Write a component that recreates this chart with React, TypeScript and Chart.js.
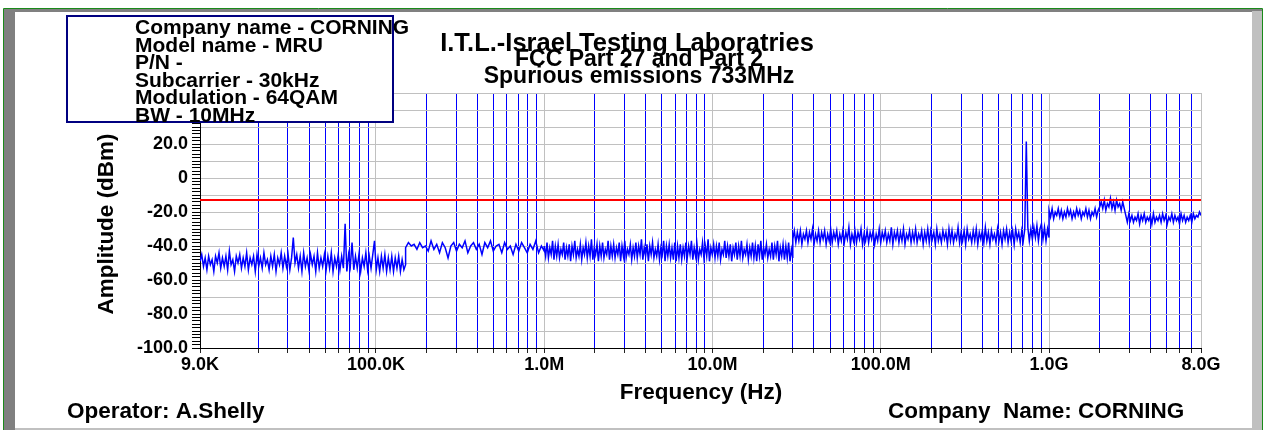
import React, { useEffect, useRef } from 'react';
import { Chart, registerables } from 'chart.js';

Chart.register(...registerables);

const FONT = '"Liberation Sans", Arial, Helvetica, sans-serif';

// ---- chart texts ----
const titleLine = 'I.T.L.-Israel Testing Laboratries';
const subtitleLines = ['FCC Part 27 and Part 2', 'Spurious emissions 733MHz'];
const infoLines = [
  'Company name - CORNING',
  'Model name - MRU',
  'P/N -',
  'Subcarrier - 30kHz',
  'Modulation - 64QAM',
  'BW - 10MHz',
];
const xTitle = 'Frequency (Hz)';
const yTitle = 'Amplitude (dBm)';
const operatorText = 'Operator: A.Shelly';
const companyText = 'Company  Name: CORNING';

// ---- axes ----
const xMin = 9e3;
const xMax = 8e9;
const yMin = -100;
const yMax = 50;
const xMajorTicks = [9e3, 1e5, 1e6, 1e7, 1e8, 1e9, 8e9];
const xMajorLabels = ['9.0K', '100.0K', '1.0M', '10.0M', '100.0M', '1.0G', '8.0G'];
const xMinorDecades = [1e4, 1e5, 1e6, 1e7, 1e8, 1e9];
const xMinorMultipliers = [2, 3, 4, 5, 6, 7, 8, 9];
const yLabelValues = [20, 0, -20, -40, -60, -80, -100];
const yLabelTexts = ['20.0', '0', '-20.0', '-40.0', '-60.0', '-80.0', '-100.0'];

// ---- limit line (dBm) ----
const limitFreq = [9e3, 8e9];
const limitLevel = [-13, -13];

// ---- measured trace, per sweep segment (Hz span, dBm readings) ----
const seg1Span = [9e3, 150e3];
const seg1Levels = [
  -49, -45, -52, -47, -54, -46, -51, -48, -55, -46,
  -50, -44, -53, -47, -52, -46, -54, -43, -51, -48,
  -55, -46, -50, -45, -53, -47, -52, -44, -54, -47,
  -51, -46, -55, -45, -52, -47, -53, -44, -51, -48,
  -54, -46, -52, -45, -55, -47, -51, -44, -53, -46,
  -52, -45, -54, -47, -35, -50, -45, -53, -46, -55,
  -44, -52, -47, -54, -45, -51, -46, -55, -44, -53,
  -47, -52, -45, -54, -46, -53, -44, -55, -47, -52,
  -45, -54, -46, -53, -27, -55, -45, -52, -38, -54,
  -46, -53, -45, -55, -47, -52, -44, -54, -46, -53,
  -45, -37, -54, -47, -55, -46, -53, -45, -55, -47,
  -54, -46, -55, -47, -53, -46, -55, -48, -54, -51,
];
const seg2aSpan = [150e3, 1e6];
const seg2aLevels = [
  -41, -38, -40, -39, -42, -38, -41, -40, -43, -37,
  -42, -39, -44, -38, -41, -47, -40, -38, -43, -39,
  -41, -37, -44, -40, -38, -42, -39, -45, -38, -41,
  -37, -43, -40, -39, -44, -38, -42, -40, -45, -39,
  -43, -38, -41, -44, -39, -42, -37, -44, -40, -43,
];
const seg2bSpan = [1e6, 30e6];
const seg2bLevels = [
  -40, -46, -38, -47, -41, -45, -37, -48, -40, -46,
  -39, -47, -42, -45, -38, -48, -41, -46, -39, -49,
  -40, -45, -37, -47, -42, -46, -39, -48, -41, -45,
  -38, -47, -40, -46, -36, -48, -41, -45, -39, -49,
  -40, -46, -38, -47, -42, -45, -37, -48, -40, -46,
  -39, -47, -41, -45, -38, -49, -40, -46, -37, -47,
  -42, -45, -39, -48, -41, -46, -38, -47, -40, -45,
  -36, -48, -41, -46, -39, -49, -40, -45, -38, -47,
  -42, -46, -39, -48, -41, -45, -37, -49, -40, -46,
  -39, -47, -41, -48, -38, -49, -40, -47, -39, -48,
  -41, -46, -38, -47, -40, -45, -37, -48, -41, -46,
  -39, -48, -42, -45, -38, -47, -40, -46, -36, -49,
  -41, -45, -39, -47, -40, -46, -38, -48, -42, -45,
  -37, -47, -40, -46, -39, -49, -41, -45, -38, -48,
  -40, -46, -37, -47, -42, -45, -39, -48, -41, -46,
  -38, -47, -40, -49, -39, -46, -37, -48, -41, -45,
  -39, -47, -42, -46, -38, -48, -40, -45, -37, -49,
  -41, -46, -39, -48, -40, -47, -38, -49, -42, -47,
];
const seg3Span = [30e6, 1e9];
const seg3Levels = [
  -36, -31, -38, -32, -37, -31, -39, -33, -36, -31,
  -38, -32, -36, -30, -39, -33, -37, -31, -38, -32,
  -36, -31, -39, -33, -37, -30, -38, -32, -36, -31,
  -39, -33, -37, -31, -38, -32, -36, -29, -39, -33,
  -37, -31, -38, -32, -36, -30, -39, -33, -37, -31,
  -38, -32, -36, -31, -39, -33, -37, -30, -38, -32,
  -36, -31, -38, -33, -37, -29, -39, -32, -36, -31,
  -38, -32, -37, -30, -39, -33, -36, -31, -38, -32,
  -37, -30, -38, -33, -36, -31, -39, -32, -37, -30,
  -38, -31, -36, -32, -39, -30, -37, -33, -38, -31,
  -36, -32, -39, -30, -37, -31, -38, -33, -36, -29,
  -38, -32, -37, -31, -39, -30, -36, -33, -38, -31,
  -37, -30, -39, -32, -36, -31, -38, -29, -37, -32,
  -39, -31, -36, -33, -38, -30, -37, -32, -39, -31,
  -36, -30, -38, -32, -37, -31, -39, -30, -36, -32,
  -38, -31, -37, -30, 21.5, -29, -37, -30, -36, -29,
  -35, -28, -37, -30, -27, -36, -29, -37, -30, -35,
];
const seg4Span = [1e9, 8e9];
const seg4Levels = [
  -19, -23, -18, -24, -20, -22, -18, -23, -19, -24,
  -20, -23, -18, -22, -19, -24, -20, -23, -18, -22,
  -19, -24, -20, -22, -18, -23, -19, -24, -20, -22,
  -18, -23, -19, -17, -14, -18, -13, -19, -15, -17,
  -12, -18, -14, -19, -13, -17, -15, -19, -14, -18,
  -22, -26, -21, -25, -22, -26, -23, -25, -21, -27,
  -22, -25, -21, -26, -23, -25, -22, -27, -21, -26,
  -23, -25, -22, -26, -21, -25, -22, -27, -23, -25,
  -21, -26, -22, -25, -23, -27, -21, -25, -22, -26,
  -23, -25, -22, -26, -21, -24, -22, -23, -20, -22,
];

function sweepPoints(span: number[], levels: number[]) {
  const n = levels.length;
  return levels.map((v, i) => ({
    x: span[0] * Math.pow(span[1] / span[0], i / (n - 1)),
    y: v,
  }));
}

function isDecade(v: number) {
  const l = Math.log10(v);
  return Math.abs(l - Math.round(l)) < 1e-6;
}

const framePlugin = {
  id: 'frame',
  beforeDraw(chart: any) {
    const ctx = chart.ctx as CanvasRenderingContext2D;
    const W = chart.width;
    const H = chart.height;
    ctx.save();
    ctx.fillStyle = '#ffffff';
    ctx.fillRect(0, 0, W, H);
    ctx.fillStyle = '#808080';
    ctx.fillRect(4, 9, 1258, 3);
    ctx.fillRect(4, 9, 11, H - 9);
    ctx.fillStyle = '#c0c0c0';
    ctx.fillRect(1252, 11, 10, H - 11);
    ctx.fillRect(15, 428, 1237, 2);
    ctx.strokeStyle = '#1a8a1a';
    ctx.lineWidth = 1;
    ctx.beginPath();
    ctx.moveTo(3.5, H);
    ctx.lineTo(3.5, 8.5);
    ctx.lineTo(1262.5, 8.5);
    ctx.lineTo(1262.5, H);
    ctx.stroke();
    ctx.restore();
  },
};

const textPlugin = {
  id: 'texts',
  afterDraw(chart: any) {
    const ctx = chart.ctx as CanvasRenderingContext2D;
    ctx.save();
    ctx.fillStyle = '#000';
    ctx.textBaseline = 'alphabetic';

    ctx.textAlign = 'center';
    ctx.font = `bold 25.5px ${FONT}`;
    ctx.fillText(titleLine, 627, 51);
    ctx.font = `bold 23px ${FONT}`;
    ctx.fillText(subtitleLines[0], 639, 66);
    ctx.fillText(subtitleLines[1], 639, 83);

    ctx.fillStyle = '#ffffff';
    ctx.fillRect(67, 16, 326, 106);
    ctx.strokeStyle = '#000080';
    ctx.lineWidth = 2;
    ctx.strokeRect(67, 16, 326, 106);
    ctx.fillStyle = '#000';
    ctx.textAlign = 'left';
    ctx.font = `bold 21px ${FONT}`;
    infoLines.forEach((t, i) => ctx.fillText(t, 135, 34.3 + i * 17.5));

    ctx.font = `bold 22.5px ${FONT}`;
    ctx.textAlign = 'center';
    ctx.textBaseline = 'middle';
    ctx.fillText(xTitle, 701, 393);
    ctx.save();
    ctx.translate(107, 224);
    ctx.rotate(-Math.PI / 2);
    ctx.fillText(yTitle, 0, 0);
    ctx.restore();

    ctx.textBaseline = 'alphabetic';
    ctx.textAlign = 'left';
    ctx.font = `bold 22.5px ${FONT}`;
    ctx.fillText(operatorText, 67, 418);
    ctx.fillText(companyText, 888, 418);
    ctx.restore();
  },
};

export default function App() {
  const canvasRef = useRef<HTMLCanvasElement | null>(null);

  useEffect(() => {
    if (!canvasRef.current) return;
    const trace = [
      ...sweepPoints(seg1Span, seg1Levels),
      ...sweepPoints(seg2aSpan, seg2aLevels),
      ...sweepPoints(seg2bSpan, seg2bLevels),
      ...sweepPoints(seg3Span, seg3Levels),
      ...sweepPoints(seg4Span, seg4Levels),
    ];
    const limit = limitFreq.map((f, i) => ({ x: f, y: limitLevel[i] }));

    const xTickList: number[] = [...xMajorTicks];
    xMinorDecades.forEach((d) =>
      xMinorMultipliers.forEach((m) => {
        const v = d * m;
        if (v > xMin && v < xMax) xTickList.push(v);
      })
    );
    xTickList.sort((a, b) => a - b);

    const yTickList: number[] = [];
    for (let v = yMin; v <= yMax; v += 2) yTickList.push(v);

    const chart = new Chart(canvasRef.current, {
      type: 'line',
      data: {
        datasets: [
          {
            data: limit,
            borderColor: '#ff0000',
            borderWidth: 2,
            pointRadius: 0,
            fill: false,
          },
          {
            data: trace,
            borderColor: '#0000ff',
            borderWidth: 1.5,
            pointRadius: 0,
            fill: false,
            tension: 0,
          },
        ],
      },
      options: {
        animation: false,
        responsive: false,
        devicePixelRatio: 1,
        layout: { padding: { left: 0, top: 93, right: 66, bottom: 0 } },
        plugins: {
          legend: { display: false },
          tooltip: { enabled: false },
          title: { display: false },
        },
        scales: {
          x: {
            type: 'logarithmic',
            min: xMin,
            max: xMax,
            afterBuildTicks: (s: any) => {
              s.ticks = xTickList.map((v) => ({ value: v }));
            },
            afterFit: (s: any) => {
              s.height = 82;
            },
            ticks: {
              autoSkip: false,
              maxRotation: 0,
              minRotation: 0,
              padding: 1,
              color: '#000',
              font: { family: FONT, size: 18, weight: 'bold' },
              callback: (v: any) => {
                const idx = xMajorTicks.findIndex((t) => Math.abs(t - Number(v)) / t < 1e-6);
                return idx >= 0 ? xMajorLabels[idx] : '';
              },
            },
            grid: {
              color: (c: any) => {
                const v = c.tick ? c.tick.value : 0;
                if (v === xMin || v === xMax || isDecade(v)) return '#c0c0c0';
                return '#0000ff';
              },
              lineWidth: 1,
              tickLength: 5,
              tickColor: '#222',
            },
            border: { color: '#000', width: 1 },
          },
          y: {
            type: 'linear',
            min: yMin,
            max: yMax,
            afterBuildTicks: (s: any) => {
              s.ticks = yTickList.map((v) => ({ value: v }));
            },
            afterFit: (s: any) => {
              s.width = 200;
            },
            ticks: {
              autoSkip: false,
              padding: 4,
              color: '#000',
              font: { family: FONT, size: 18, weight: 'bold' },
              callback: (v: any) => {
                const idx = yLabelValues.indexOf(Number(v));
                return idx >= 0 ? yLabelTexts[idx] : '';
              },
            },
            grid: {
              color: (c: any) => {
                const v = c.tick ? c.tick.value : 0;
                return v % 10 === 0 ? '#c0c0c0' : 'rgba(0,0,0,0)';
              },
              lineWidth: 1,
              tickLength: 8,
              tickColor: '#000',
            },
            border: { color: '#000', width: 1 },
          },
        },
      },
      plugins: [framePlugin, textPlugin],
    } as any);

    return () => chart.destroy();
  }, []);

  return (
    <div style={{ position: 'absolute', left: 0, top: 0, width: 1267, height: 430 }}>
      <canvas ref={canvasRef} width={1267} height={430} style={{ display: 'block' }} />
    </div>
  );
}
